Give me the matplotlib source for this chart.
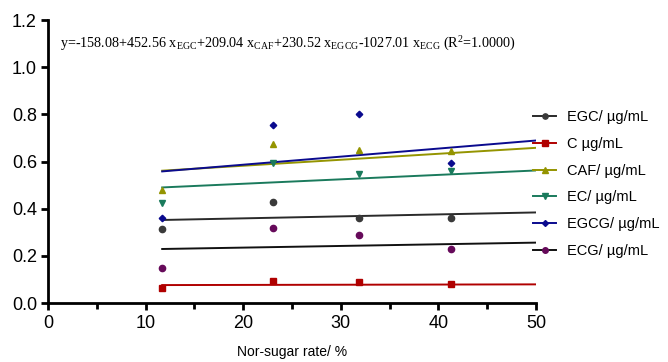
import matplotlib
matplotlib.use("Agg")
import matplotlib.pyplot as plt
import numpy as np

plt.rcParams['font.family'] = ['Liberation Sans', 'DejaVu Sans']
plt.rcParams['mathtext.fontset'] = 'custom'
plt.rcParams['mathtext.rm'] = 'Liberation Serif'
plt.rcParams['mathtext.it'] = 'Liberation Serif:italic'

x = [11.7, 23.1, 31.9, 41.3]
labels = ["EGC/ µg/mL", "C µg/mL", "CAF/ µg/mL", "EC/ µg/mL", "EGCG/ µg/mL", "ECG/ µg/mL"]
egc = [0.312, 0.429, 0.360, 0.359]
c = [0.065, 0.093, 0.089, 0.081]
caf = [0.479, 0.674, 0.648, 0.645]
ec = [0.422, 0.592, 0.547, 0.561]
egcg = [0.359, 0.755, 0.801, 0.593]
ecg = [0.150, 0.319, 0.287, 0.229]
series = [egc, c, caf, ec, egcg, ecg]
# fitted line values at x start and x = 50
fit_start = [0.352, 0.076, 0.561, 0.490, 0.558, 0.229]
fit_end = [0.384, 0.079, 0.658, 0.562, 0.689, 0.256]
fit_x_end = 50

colors = ['#3a3a3a', '#b00000', '#949400', '#1a7a5c', '#0a0a8e', '#660a5a']
line_colors = ['#2a2a2a', '#b00000', '#949400', '#1a7a5c', '#0a0a8e', '#111111']
markers = ['o', 's', '^', 'v', 'D', 'o']
msizes = [4.5, 4.5, 5, 5, 3.3, 4.5]
leg_msizes = [3.8, 4.2, 4, 4, 3, 4]

fig = plt.figure(figsize=(6.68, 3.62), dpi=100)
ax = fig.add_axes([48/668, 1-303/362, (536-48)/668, (303-20)/362])

handles = []
for s, fs, fe, col, lcol, m, ms, lms, lab in zip(series, fit_start, fit_end, colors, line_colors,
                                                  markers, msizes, leg_msizes, labels):
    ax.plot(x, s, linestyle='none', marker=m, color=col, markersize=ms, clip_on=False, zorder=3)
    ax.plot([x[0], fit_x_end], [fs, fe], color=lcol, lw=1.4, zorder=2)
    h, = ax.plot([], [], color=lcol, lw=1.4,
                 marker=m, markersize=lms, markerfacecolor=col, markeredgecolor=col)
    handles.append(h)

ax.set_xlim(0, 50)
ax.set_ylim(0, 1.2)
ax.set_xticks(np.arange(0, 51, 10))
ax.set_xticks(np.arange(5, 50, 10), minor=True)
ax.set_yticks(np.arange(0, 1.21, 0.2))
ax.set_yticklabels([f"{v:.1f}" for v in np.arange(0, 1.21, 0.2)])
for sp in ['top', 'right']:
    ax.spines[sp].set_visible(False)
for sp in ['left', 'bottom']:
    ax.spines[sp].set_linewidth(2)
ax.tick_params(which='major', direction='out', length=5, width=2, labelsize=13, pad=3)
ax.tick_params(axis='x', which='major', pad=4)
ax.tick_params(which='minor', direction='out', length=4, width=2)
ax.set_xlabel("Nor-sugar rate/ %", fontsize=10, labelpad=9)

eq = (r"y=-158.08+452.56 x$_{\rm EGC}$+209.04 x$_{\rm CAF}$+230.52 x$_{\rm EGCG}$"
      r"-1027.01 x$_{\rm ECG}$ (R$^{2}$=1.0000)")
ax.text(0.025, 0.915, eq, transform=ax.transAxes, fontsize=10.2, family='Liberation Serif',
        va='center', ha='left')

fig.legend(handles, labels, loc='center left', bbox_to_anchor=(533/668, 1-184/362),
           bbox_transform=fig.transFigure, frameon=False, fontsize=10.5,
           handlelength=1.6, handletextpad=0.7, labelspacing=0.87, borderpad=0, borderaxespad=0)

fig.savefig("out.png", dpi=100)
